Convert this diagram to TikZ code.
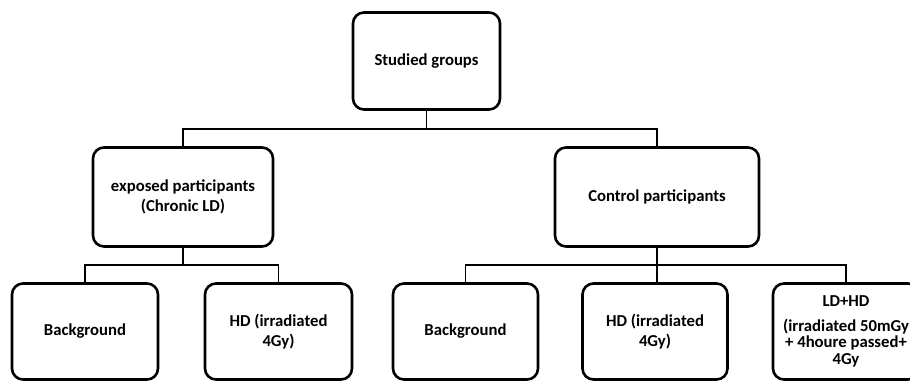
\documentclass[tikz,border=0pt]{standalone}
\usepackage{fontspec}
\setmainfont{Carlito}
\usepackage{tikz}
\usetikzlibrary{calc}

\tikzset{
  group/.style={draw, line width=2.6pt, rounded corners=11pt, align=center,
    font=\bfseries\fontsize{16.7}{19.5}\selectfont, inner sep=2pt},
  link/.style={line width=1.9pt}
}

\begin{document}
\begin{tikzpicture}[x=1pt,y=1pt]
			\useasboundingbox (0,0) rectangle (910,381); % same frame as the reference
			% top level
			\node[group, minimum width=147pt, minimum height=97pt] (root) at (426.5,320) {Studied groups};
			% second level
			\node[group, minimum width=180pt, minimum height=99pt] (exposed) at (183,184) {exposed participants\\(Chronic LD)};
			\node[group, minimum width=204pt, minimum height=99pt] (control) at (657,184) {Control participants};
			% third level
			\node[group, minimum width=146pt, minimum height=96pt] (bgexp) at (85,49.5) {Background};
			\node[group, minimum width=147pt, minimum height=96pt] (hdexp) at (278.5,49.5) {HD (irradiated\\4Gy)};
			\node[group, minimum width=145pt, minimum height=96pt] (bgctrl) at (465.5,49.5) {Background};
			\node[group, minimum width=145pt, minimum height=96pt] (hdctrl) at (655,49.5) {HD (irradiated\\4Gy)};
			\node[group, minimum width=146pt, minimum height=96pt,
			  font=\bfseries\fontsize{16.7}{15}\selectfont] (ldhd) at (846,49.5)
			  {LD+HD\\[10pt](irradiated 50mGy\\[1pt]+ 4houre passed+\\[2pt]4Gy};
			% connectors
			\coordinate (rootbus) at (426.5,252);
			\coordinate (expbus) at (183,116);
			\coordinate (ctrlbus) at (657,116);
			\draw[link] (root.south) -- (rootbus);
			\draw[link] (exposed.north) |- (rootbus) -| (control.north);
			\draw[link] (exposed.south) -- (expbus);
			\draw[link] (bgexp.north) |- (expbus) -| (hdexp.north);
			\draw[link] (control.south) -- (ctrlbus) -- (hdctrl.north -| ctrlbus);
			\draw[link] (bgctrl.north) |- (ctrlbus) -| (ldhd.north);
		\end{tikzpicture}
\end{document}
